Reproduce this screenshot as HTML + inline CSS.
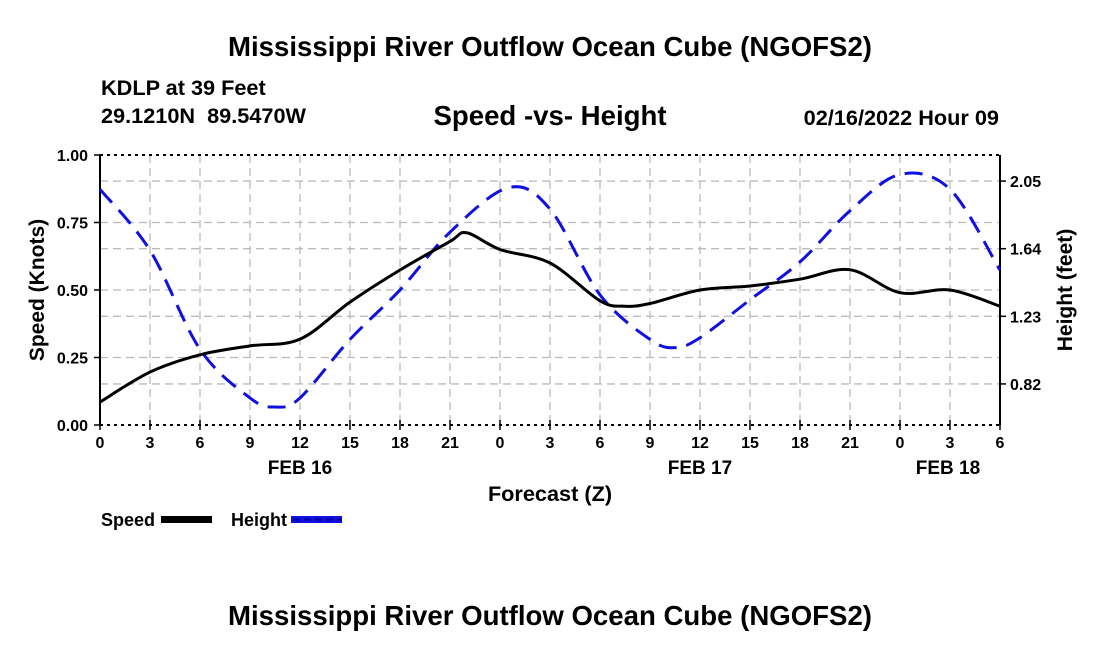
<!DOCTYPE html>
<html><head><meta charset="utf-8"><style>
body{margin:0;background:#fff;width:1100px;height:650px;overflow:hidden}
svg text{font-family:"Liberation Sans",sans-serif;font-weight:bold;fill:#000}
</style></head><body>
<svg id="chart" width="1100" height="650" xmlns="http://www.w3.org/2000/svg">
<text x="550" y="56" font-size="27.6" text-anchor="middle">Mississippi River Outflow Ocean Cube (NGOFS2)</text>
<text x="101" y="95" font-size="21.7">KDLP at 39 Feet</text>
<text x="101" y="123" font-size="21.7" xml:space="preserve">29.1210N  89.5470W</text>
<text x="550" y="125" font-size="27.6" text-anchor="middle">Speed -vs- Height</text>
<text x="999" y="125" font-size="21.7" text-anchor="end">02/16/2022 Hour 09</text>
<g id="grid"></g>
<g id="axes"></g>
<g id="series"></g>
<text transform="translate(44,290) rotate(-90)" font-size="21" text-anchor="middle">Speed (Knots)</text>
<text transform="translate(1072,290) rotate(-90)" font-size="21" text-anchor="middle">Height (feet)</text>
<text x="550" y="501" font-size="21.7" text-anchor="middle">Forecast (Z)</text>
<text x="300" y="474" font-size="19" text-anchor="middle">FEB 16</text>
<text x="700" y="474" font-size="19" text-anchor="middle">FEB 17</text>
<text x="948" y="474" font-size="19" text-anchor="middle">FEB 18</text>
<g>
<text x="101" y="526" font-size="18">Speed</text>
<rect x="161" y="516" width="51" height="7" fill="#000"/>
<text x="231" y="526" font-size="18">Height</text>
<rect x="291" y="516" width="51" height="7" fill="#1010e0"/>
<line x1="293" y1="519.5" x2="342" y2="519.5" stroke="#0000a0" stroke-width="2" stroke-dasharray="7,4"/>
</g>
<text x="550" y="625" font-size="27.6" text-anchor="middle">Mississippi River Outflow Ocean Cube (NGOFS2)</text>
</svg>
<script>
const hours=[0,3,6,9,12,15,18,21,22,24,27,30,31.5,33,36,39,42,45,48,51,54];
const speed=[0.085,0.196,0.26,0.293,0.318,0.455,0.574,0.68,0.712,0.65,0.60,0.46,0.44,0.45,0.50,0.515,0.54,0.575,0.49,0.50,0.44];
const heightHours=[0,3,6,9,10.5,12,15,18,21,24.5,27,30,33,34.5,36,39,42,45,48,51,54];
const heightFt=[2.00,1.63,1.03,0.735,0.68,0.735,1.09,1.39,1.74,2.01,1.88,1.36,1.09,1.04,1.10,1.33,1.56,1.87,2.09,2.00,1.51];
const xTickLabels=["0","3","6","9","12","15","18","21","0","3","6","9","12","15","18","21","0","3","6"];
const leftTicks=[0,0.25,0.5,0.75,1.0];
const rightTicks=[0.82,1.23,1.64,2.05];
const NS="http://www.w3.org/2000/svg";
const X0=100,X1=1000,Y0=425,Y1=155;
const xs=h=>X0+h/54*(X1-X0);
const yL=v=>Y0-v*(Y0-Y1);
const HMIN=0.571,HMAX=2.208;
const yR=v=>Y0-(v-HMIN)/(HMAX-HMIN)*(Y0-Y1);
function mk(tag,attrs,parent){const e=document.createElementNS(NS,tag);for(const k in attrs)e.setAttribute(k,attrs[k]);parent.appendChild(e);return e;}
const grid=document.getElementById('grid'),axes=document.getElementById('axes'),series=document.getElementById('series');
const gs={stroke:"#bbb","stroke-width":1.3,"stroke-dasharray":"8,5"};
xTickLabels.forEach((t,i)=>{const x=xs(i*3);
 if(i>0&&i<18){const l=mk('line',Object.assign({x1:x,x2:x,y1:Y1,y2:Y0},gs),grid);
 
 }
 const tk=mk('line',{x1:x,x2:x,y1:Y0-5,y2:Y0+5,stroke:"#000","stroke-width":1.5},axes);
 
 
 const tx=mk('text',{x:x,y:Y0+23,"font-size":16,"text-anchor":"middle"},axes);tx.textContent=t;
 
 
});
leftTicks.forEach(v=>{const y=yL(v);
 if(v>0&&v<1){const l=mk('line',Object.assign({x1:X0,x2:X1,y1:y,y2:y},gs),grid);
 
 }
 mk('line',{x1:X0-6,x2:X0,y1:y,y2:y,stroke:"#000","stroke-width":1.5},axes);
 const tx=mk('text',{x:X0-12,y:y+6,"font-size":16,"text-anchor":"end"},axes);tx.textContent=v.toFixed(2);
 
 
});
rightTicks.forEach(v=>{const y=yR(v);
 const l=mk('line',Object.assign({x1:X0,x2:X1,y1:y,y2:y},gs),grid);
 
 
 mk('line',{x1:X1,x2:X1+6,y1:y,y2:y,stroke:"#000","stroke-width":1.5},axes);
 const tx=mk('text',{x:X1+10,y:y+6,"font-size":16},axes);tx.textContent=v.toFixed(2);
 
 
});
const la=mk('line',{x1:X0,x2:X0,y1:Y1,y2:Y0,stroke:"#000","stroke-width":2},axes);


const ra=mk('line',{x1:X1,x2:X1,y1:Y1,y2:Y0,stroke:"#000","stroke-width":2},axes);


const ta=mk('line',{x1:X0,x2:X1,y1:Y1,y2:Y1,stroke:"#000","stroke-width":2,"stroke-dasharray":"3,4"},axes);


const ba=mk('line',{x1:X0,x2:X1,y1:Y0,y2:Y0,stroke:"#000","stroke-width":2,"stroke-dasharray":"3,4"},axes);


function smooth(pts){let d="M"+pts[0][0]+","+pts[0][1];
 for(let i=0;i<pts.length-1;i++){const p0=pts[i-1]||pts[i],p1=pts[i],p2=pts[i+1],p3=pts[i+2]||p2;
 d+=" C"+(p1[0]+(p2[0]-p0[0])/6)+","+(p1[1]+(p2[1]-p0[1])/6)+" "+(p2[0]-(p3[0]-p1[0])/6)+","+(p2[1]-(p3[1]-p1[1])/6)+" "+p2[0]+","+p2[1];}
 return d;}
const hp=mk('path',{d:smooth(heightHours.map((h,i)=>[xs(h),yR(heightFt[i])])),fill:"none",stroke:"#1010e0","stroke-width":3,"stroke-dasharray":"18,10"},series);


const sp=mk('path',{d:smooth(hours.map((h,i)=>[xs(h),yL(speed[i])])),fill:"none",stroke:"#000","stroke-width":3},series);


</script>
</body></html>
